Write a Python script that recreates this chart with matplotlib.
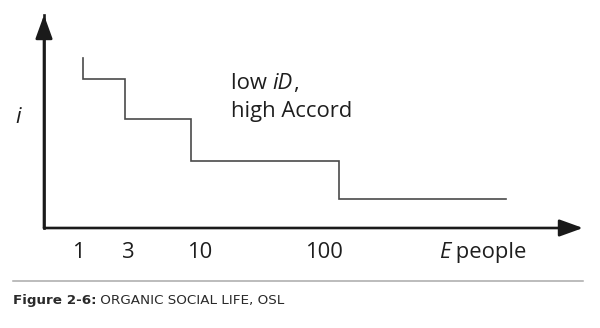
import matplotlib
matplotlib.use("Agg")
import matplotlib.pyplot as plt
from matplotlib.lines import Line2D

# ---- data (schematic units along each axis) ----
tick_labels = ["1", "3", "10", "100"]
tick_pos = [34, 84, 156, 280]
step_x = [39, 81, 147, 295, 462]          # x of each step edge (last = end)
step_levels = [170, 149, 109, 67, 29]      # start height, then level after each drop

W, H = 600, 328
fig = plt.figure(figsize=(W / 100, H / 100), dpi=100)
fig.patch.set_facecolor("white")

# overlay axes in pixel coordinates for annotations
ov = fig.add_axes([0, 0, 1, 1])
ov.set_xlim(0, W)
ov.set_ylim(H, 0)
ov.axis("off")

# main schematic axes: origin at (44,228) px, ends at (583,15) px
x0, y0, x1, y1 = 44, 228, 583, 15
ax = fig.add_axes([x0 / W, (H - y0) / H, (x1 - x0) / W, (y0 - y1) / H])
ax.set_xlim(0, x1 - x0)
ax.set_ylim(0, y0 - y1)
ax.patch.set_alpha(0)
for s in ax.spines.values():
    s.set_visible(False)
ax.set_yticks([])

main_font = ["Open Sans", "DejaVu Sans"]
txt_color = "#1e1e1e"
FS = 15.8

# step line built from the data
xs = [step_x[0]]
ys = [step_levels[0]]
for i in range(1, len(step_levels)):
    xs += [step_x[i - 1], step_x[i]]
    ys += [step_levels[i], step_levels[i]]
ax.plot(xs, ys, color="#4a4a4a", lw=1.2, solid_joinstyle="miter", clip_on=False)

# axes with arrows
arrowprops = dict(arrowstyle="-|>,head_length=0.72,head_width=0.26", color="#1a1a1a",
                  lw=1.9, mutation_scale=20, shrinkA=0, shrinkB=0)
ax.annotate("", xy=(1, 0), xytext=(0, 0), xycoords="axes fraction",
            textcoords="axes fraction", arrowprops=arrowprops, annotation_clip=False)
ax.annotate("", xy=(0, 1), xytext=(0, 0), xycoords="axes fraction",
            textcoords="axes fraction", arrowprops=arrowprops, annotation_clip=False)
ax.plot([0, 0], [0, 1], transform=ax.transAxes, color="#1a1a1a", lw=1.9,
        solid_capstyle="projecting", clip_on=False)

# tick labels
ax.set_xticks(tick_pos)
ax.set_xticklabels(tick_labels, family=main_font, fontsize=FS, color=txt_color)
ax.tick_params(axis="x", length=0, pad=10)


def chain(x, y, parts):
    """Draw consecutive text pieces (text, italic?) starting at baseline (x, y)."""
    prev = None
    for s, it in parts:
        style = "italic" if it else "normal"
        if prev is None:
            prev = ov.text(x, y, s, fontsize=FS, family=main_font, style=style,
                           color=txt_color, va="baseline", ha="left")
        else:
            prev = ov.annotate(s, xy=(1, 0), xycoords=prev, fontsize=FS,
                               family=main_font, style=style, color=txt_color,
                               va="bottom", ha="left")
    return prev


# axis titles
chain(439, 258, [("E", True), (" people", False)])
ov.text(15, 123, "i", fontsize=FS, family=main_font, style="italic",
        color=txt_color, va="baseline", ha="left")

# annotation
chain(231, 89, [("low ", False), ("iD", True), (",", False)])
ov.text(231, 117, "high Accord", fontsize=FS, family=main_font, color=txt_color,
        va="baseline", ha="left")

# rule and caption
ov.add_line(Line2D([13, 583], [281, 281], color="#aaaaaa", lw=1.1))
cap_font = ["Liberation Sans Narrow", "DejaVu Sans"]
t1 = ov.text(13, 304, "Figure 2-6:", fontsize=9.7, family=cap_font, weight="bold",
             color="#2a2a2a", va="baseline", ha="left")
ov.annotate(" ORGANIC SOCIAL LIFE, OSL", xy=(1, 0), xycoords=t1, fontsize=9.7,
            family=cap_font, color="#2a2a2a", va="bottom", ha="left")

fig.savefig("out.png", dpi=100, facecolor="white")
